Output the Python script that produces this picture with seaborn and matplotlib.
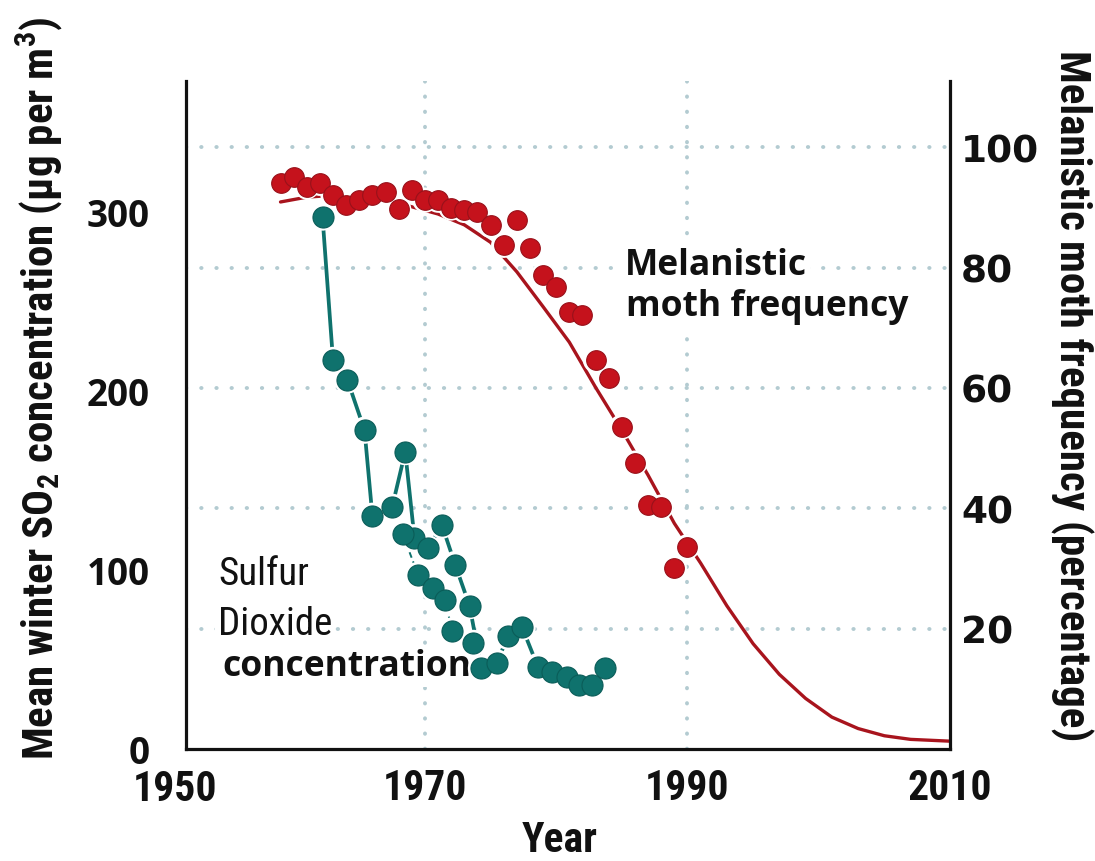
import matplotlib
matplotlib.use("Agg")
import matplotlib.pyplot as plt
from matplotlib import font_manager
from matplotlib.font_manager import FontProperties
import seaborn as sns
import pandas as pd

# ---------------------------------------------------------------- data
# Melanistic moth frequency (%), one sample per year
moth_years = list(range(1959, 1991))
moth_freq = [94.0, 95.0, 93.4, 94.0, 92.0, 90.4, 91.2, 92.0, 92.5, 89.7,
             92.9, 91.2, 91.2, 89.9, 89.5, 89.2, 87.0, 83.7, 87.9, 83.2,
             78.7, 76.7, 72.6, 72.1, 64.6, 61.6, 53.5, 47.5, 40.5, 40.2,
             30.1, 33.6]

# Fitted decline of the melanic form (%)
curve_years = [1959, 1961, 1963, 1965, 1967, 1969, 1971, 1973, 1975, 1977,
               1979, 1981, 1983, 1985, 1987, 1989, 1991, 1993, 1995, 1997,
               1999, 2001, 2003, 2005, 2007, 2010]
curve_freq = [90.9, 91.7, 92.0, 91.8, 91.1, 90.1, 88.9, 87.1, 84.2, 79.3,
              73.5, 67.6, 60.1, 53.0, 45.5, 37.5, 30.9, 23.8, 17.5, 12.4,
              8.4, 5.3, 3.4, 2.2, 1.6, 1.3]

# Mean winter SO2 concentration (ug per m3), main record
so2_years = [1962.2, 1963.0, 1964.1, 1965.4, 1966.0, 1967.5, 1968.5, 1969.2,
             1970.2, 1971.3, 1972.3, 1973.4, 1974.3, 1975.5, 1976.3, 1977.4,
             1978.6, 1979.7, 1980.8, 1981.7, 1982.7, 1983.7]
so2_conc = [297, 217, 206, 178, 130, 135, 166, 118, 112, 125, 103, 80,
            45, 48, 63, 68, 46, 43, 40, 36, 36, 45]

# Second SO2 record over the late 1960s / early 1970s
so2_alt_years = [1968.3, 1969.5, 1970.6, 1971.5, 1972.1, 1973.7]
so2_alt_conc = [120, 97, 90, 83, 66, 59]

x_ticks = [1970, 1990, 2010]
x_first_label = "1950"
so2_ticks = [0, 100, 200, 300]
moth_ticks = [20, 40, 60, 80, 100]

# ---------------------------------------------------------------- style
sns.set_style("white")

# prefer a condensed face for the axis titles and year labels
installed = {f.name for f in font_manager.fontManager.ttflist}
if "Roboto Condensed" in installed:
    COND = "Roboto Condensed"
    cond_sizes = dict(xtick=30, ylab_l=31, ylab_r=31, year=30, note=28)
elif "Liberation Sans Narrow" in installed:
    COND = "Liberation Sans Narrow"
    cond_sizes = dict(xtick=29, ylab_l=28, ylab_r=28, year=28, note=29)
else:
    COND = "Liberation Sans"
    cond_sizes = dict(xtick=26, ylab_l=25.5, ylab_r=27, year=27, note=25)

plt.rcParams["font.family"] = [COND, "DejaVu Sans"]
plt.rcParams["mathtext.fontset"] = "custom"
plt.rcParams["mathtext.rm"] = COND + ":bold"
plt.rcParams["mathtext.bf"] = COND + ":bold"

RED = "#c5121c"
RED_EDGE = "#98111a"
CURVE = "#a8141d"
TEAL = "#0f726d"
TEAL_EDGE = "#0a5c58"
GRID = "#b3cbd1"
INK = "#111111"


def cond(size, weight="bold"):
    return FontProperties(family=[COND, "DejaVu Sans"], weight=weight, size=size)


fp_xtick = cond(cond_sizes["xtick"])
fp_ylab_l = cond(cond_sizes["ylab_l"])
fp_ylab_r = cond(cond_sizes["ylab_r"])
fp_year = cond(cond_sizes["year"])
fp_note_reg = cond(cond_sizes["note"], weight="normal")
fp_ltick = FontProperties(family=["Open Sans", "DejaVu Sans"], weight="bold", size=26.5)
fp_rtick = FontProperties(family=["DejaVu Sans"], weight="bold", size=27)
fp_note_bold = FontProperties(family=["Open Sans", "DejaVu Sans"], weight="bold", size=25.5)

W, H = 1095, 862
fig = plt.figure(figsize=(W / 100, H / 100), dpi=100)
ax = fig.add_axes([186 / W, 112 / H, 764 / W, 668 / H])
ax_so2 = ax.twinx()

ax.set_xlim(1951.8, 2010)
ax.set_ylim(0, 111)
ax_so2.set_ylim(0, 373)

# dotted guide lines
grid_kw = dict(color=GRID, linewidth=2.8, linestyle=(0, (0.1, 3.8)),
               dash_capstyle="round", zorder=0.5)
for v in moth_ticks:
    ax.axhline(v, **grid_kw)
for yr in (1970, 1990):
    ax.axvline(yr, **grid_kw)

# ---------------------------------------------------------------- moths
moth_df = pd.DataFrame({"year": moth_years, "freq": moth_freq})
curve_df = pd.DataFrame({"year": curve_years, "freq": curve_freq})
sns.lineplot(data=curve_df, x="year", y="freq", ax=ax, color=CURVE,
             linewidth=2.4, zorder=2)
sns.scatterplot(data=moth_df, x="year", y="freq", ax=ax, s=330,
                color="white", edgecolor="none", zorder=3, legend=False)
sns.scatterplot(data=moth_df, x="year", y="freq", ax=ax, s=200,
                color=RED, edgecolor=RED_EDGE, linewidth=0.8, zorder=4,
                legend=False)

# ---------------------------------------------------------------- SO2
so2_df = pd.DataFrame({"year": so2_years, "conc": so2_conc})
so2_alt_df = pd.DataFrame({"year": so2_alt_years, "conc": so2_alt_conc})
sns.lineplot(data=so2_alt_df, x="year", y="conc", ax=ax_so2, color=TEAL,
             linewidth=1.4, linestyle=(0, (3, 2)), sort=False,
             estimator=None, zorder=2)
sns.lineplot(data=so2_df, x="year", y="conc", ax=ax_so2, color=TEAL,
             linewidth=2.7, sort=False, estimator=None, zorder=2)
for d in (so2_df, so2_alt_df):
    sns.scatterplot(data=d, x="year", y="conc", ax=ax_so2, s=380,
                    color="white", edgecolor="none", zorder=3, legend=False)
for d in (so2_df, so2_alt_df):
    sns.scatterplot(data=d, x="year", y="conc", ax=ax_so2, s=230,
                    color=TEAL, edgecolor=TEAL_EDGE, linewidth=0.8,
                    zorder=4, legend=False)

# ---------------------------------------------------------------- axes
for a in (ax, ax_so2):
    a.set_xlabel("")
    a.set_ylabel("")
for s in ax_so2.spines.values():
    s.set_visible(False)
ax.spines["top"].set_visible(False)
for side in ("left", "right", "bottom"):
    ax.spines[side].set_visible(True)
    ax.spines[side].set_linewidth(2.3)
    ax.spines[side].set_color(INK)

ax.set_xticks(x_ticks)
ax.tick_params(axis="x", length=0, pad=13)
for lbl in ax.get_xticklabels():
    lbl.set_fontproperties(fp_xtick)
    lbl.set_color(INK)
ax.annotate(x_first_label, xy=(0, 0), xycoords="axes fraction",
            xytext=(-8, -14), textcoords="offset points", ha="center",
            va="top", fontproperties=fp_xtick, color=INK)

ax.yaxis.tick_right()
ax.set_yticks(moth_ticks)
ax.tick_params(axis="y", length=0, pad=8, labelright=True, labelleft=False)
for lbl in ax.get_yticklabels():
    lbl.set_fontproperties(fp_rtick)
    lbl.set_color(INK)

ax_so2.yaxis.tick_left()
ax_so2.set_yticks(so2_ticks)
ax_so2.tick_params(axis="y", length=0, pad=26, labelleft=True,
                   labelright=False)
for lbl in ax_so2.get_yticklabels():
    lbl.set_fontproperties(fp_ltick)
    lbl.set_color(INK)

fig.text(40 / W, 1 - 388 / H,
         "Mean winter SO$_{2}$ concentration (\u00b5g per m$^{3}$)",
         rotation=90, ha="center", va="center", fontproperties=fp_ylab_l,
         color=INK)
fig.text(1072 / W, 1 - 396 / H, "Melanistic moth frequency (percentage)",
         rotation=270, ha="center", va="center", fontproperties=fp_ylab_r,
         color=INK)
fig.text(560 / W, 1 - 841 / H, "Year", ha="center", va="center",
         fontproperties=fp_year, color=INK)

# ---------------------------------------------------------------- notes
box = dict(facecolor="white", edgecolor="none", pad=2)
notes = [
    ("Melanistic", 625, 275, fp_note_bold),
    ("moth frequency", 626, 316, fp_note_bold),
    ("Sulfur", 218, 585, fp_note_reg),
    ("Dioxide", 218, 635, fp_note_reg),
    ("concentration", 222, 676, fp_note_bold),
]
for txt, px, py, fp in notes:
    ax.text(px / W, 1 - py / H, txt, transform=fig.transFigure, ha="left",
            va="baseline", fontproperties=fp, color=INK, bbox=box,
            zorder=2.5)

fig.savefig("out.png", dpi=100)
